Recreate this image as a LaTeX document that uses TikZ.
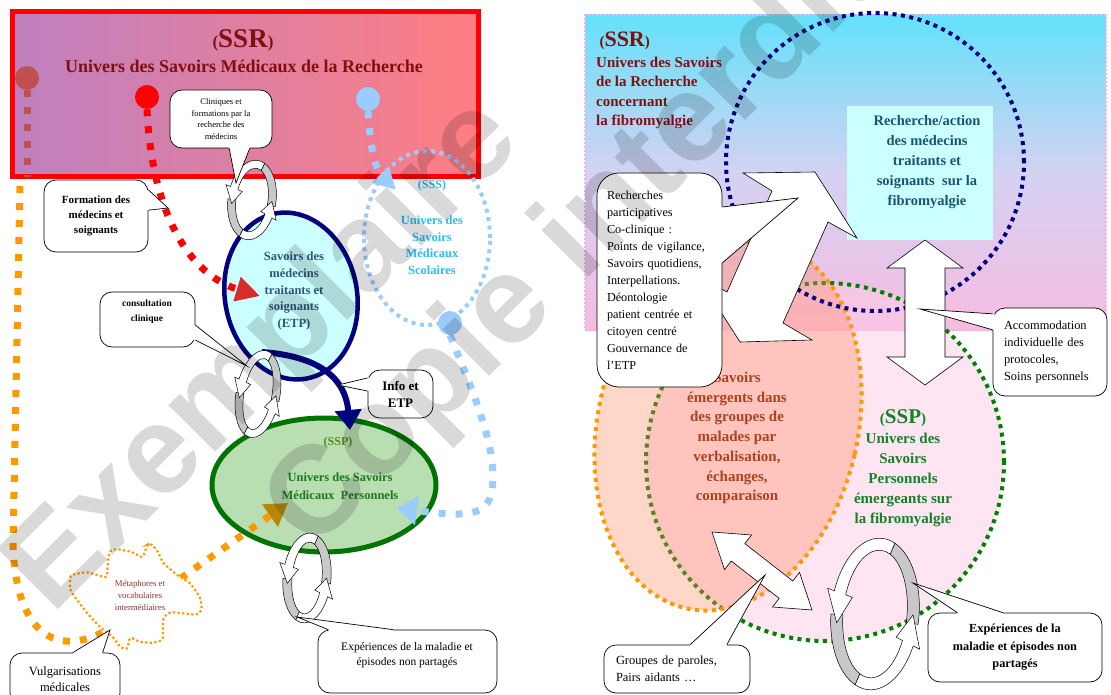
\documentclass[tikz,border=0pt]{standalone}
\usepackage{fontspec}
\setmainfont{Liberation Serif}
\newfontfamily\wmfont{Liberation Sans}
\usetikzlibrary{shapes.geometric,arrows.meta,calc}
\definecolor{boxL}{RGB}{190,128,192}
\definecolor{boxR}{RGB}{255,126,130}
\definecolor{ssrRed}{RGB}{128,16,16}
\definecolor{dotBrown}{RGB}{192,80,77}
\definecolor{lblue}{RGB}{153,204,255}
\definecolor{orangeD}{RGB}{255,153,0}
\definecolor{goldD}{RGB}{184,134,11}
\definecolor{navyC}{RGB}{0,0,128}
\definecolor{etpFill}{RGB}{204,255,255}
\definecolor{etpC}{RGB}{45,85,120}
\definecolor{sssC}{RGB}{40,190,240}
\definecolor{sspFill}{RGB}{185,222,178}
\definecolor{sspLine}{RGB}{0,115,0}
\definecolor{sspO}{RGB}{95,135,30}
\definecolor{sspG}{RGB}{30,120,30}
\definecolor{ringgrey}{RGB}{200,200,200}
\definecolor{redArrow}{RGB}{215,45,45}
\definecolor{metC}{RGB}{150,50,50}
\definecolor{rTop}{RGB}{100,225,250}
\definecolor{rMid}{RGB}{212,210,242}
\definecolor{rBot}{RGB}{245,188,225}
\definecolor{rBorder}{RGB}{255,170,240}
\definecolor{rboxC}{RGB}{204,255,255}
\definecolor{rC}{RGB}{25,85,115}
\definecolor{oFill}{RGB}{255,140,96}
\definecolor{gFill}{RGB}{255,205,230}
\definecolor{oC}{RGB}{170,68,30}
\definecolor{gC}{RGB}{20,130,40}
\definecolor{gLine}{RGB}{0,128,0}
\newcommand{\fs}[2]{\fontsize{#1}{#2}\selectfont}
% grey inner band of a ring from #1 to #2
\newcommand{\ringgreypart}[2]{%
 \filldraw[fill=ringgrey,draw=black,line width=0.5pt]
   ({\RoA*cos(#1)},{\RoB*sin(#1)}) arc[start angle=#1,end angle=#2,x radius=\RoA,y radius=\RoB]
   -- ({\RiA*cos(#2)},{\RiB*sin(#2)}) arc[start angle=#2,end angle=#1,x radius=\RiA,y radius=\RiB] -- cycle;}
% white outer band from #1 to #2 with arrow head whose tip is at #3
\newcommand{\ringwhitepart}[3]{%
 \filldraw[fill=white,draw=black,line width=0.5pt]
   ({\RoA*cos(#1)},{\RoB*sin(#1)}) arc[start angle=#1,end angle=#2,x radius=\RoA,y radius=\RoB]
   -- ({\RxA*cos(#2)},{\RxB*sin(#2)}) -- ({\RmA*cos(#3)},{\RmB*sin(#3)}) -- ({\RuA*cos(#2)},{\RuB*sin(#2)})
   -- ({\RiA*cos(#2)},{\RiB*sin(#2)}) arc[start angle=#2,end angle=#1,x radius=\RiA,y radius=\RiB] -- cycle;}
\newcommand{\ringarrow}[6]{%
 \begin{scope}[shift={(#1,#2)},rotate=#5]
 \pgfmathsetmacro{\RoA}{#3}\pgfmathsetmacro{\RoB}{#4}
 \pgfmathsetmacro{\RiA}{#3-#6}\pgfmathsetmacro{\RiB}{#4-#6}
 \pgfmathsetmacro{\RmA}{#3-#6/2}\pgfmathsetmacro{\RmB}{#4-#6/2}
 \pgfmathsetmacro{\RxA}{#3+#6*0.6}\pgfmathsetmacro{\RxB}{#4+#6*0.6}
 \pgfmathsetmacro{\RuA}{#3-#6*1.6}\pgfmathsetmacro{\RuB}{#4-#6*1.6}
 \ringgreypart{5}{-72}
 \ringgreypart{-183}{-252}
 \ringwhitepart{-72}{-165}{-190}
 \ringwhitepart{-252}{-338}{-362}
 \end{scope}}
% callout tails
\newcommand{\tailT}[4]{%
 \fill[white] ($(#1.north west)!#2!(#1.north east)+(0,2)$) -- ($(#1.north west)!#2!(#1.north east)$) -- (#4) -- ($(#1.north west)!#3!(#1.north east)$) -- ($(#1.north west)!#3!(#1.north east)+(0,2)$) -- cycle;
 \draw[cline] ($(#1.north west)!#2!(#1.north east)$) -- (#4) -- ($(#1.north west)!#3!(#1.north east)$);}
\newcommand{\tailB}[4]{%
 \fill[white] ($(#1.south west)!#2!(#1.south east)+(0,-2)$) -- ($(#1.south west)!#2!(#1.south east)$) -- (#4) -- ($(#1.south west)!#3!(#1.south east)$) -- ($(#1.south west)!#3!(#1.south east)+(0,-2)$) -- cycle;
 \draw[cline] ($(#1.south west)!#2!(#1.south east)$) -- (#4) -- ($(#1.south west)!#3!(#1.south east)$);}
\newcommand{\tailL}[4]{%
 \fill[white] ($(#1.north west)!#2!(#1.south west)+(2,0)$) -- ($(#1.north west)!#2!(#1.south west)$) -- (#4) -- ($(#1.north west)!#3!(#1.south west)$) -- ($(#1.north west)!#3!(#1.south west)+(2,0)$) -- cycle;
 \draw[cline] ($(#1.north west)!#2!(#1.south west)$) -- (#4) -- ($(#1.north west)!#3!(#1.south west)$);}
\newcommand{\tailR}[4]{%
 \fill[white] ($(#1.north east)!#2!(#1.south east)+(-2,0)$) -- ($(#1.north east)!#2!(#1.south east)$) -- (#4) -- ($(#1.north east)!#3!(#1.south east)$) -- ($(#1.north east)!#3!(#1.south east)+(-2,0)$) -- cycle;
 \draw[cline] ($(#1.north east)!#2!(#1.south east)$) -- (#4) -- ($(#1.north east)!#3!(#1.south east)$);}
\begin{document}
\begin{tikzpicture}[x=1pt,y=-1pt,
  sq/.style={line width=7pt,dash pattern=on 7pt off 10pt},
  dotline/.style={line width=4pt,dash pattern=on 4pt off 4.5pt},
  callout/.style={draw=black,fill=white,line width=0.7pt,inner sep=0pt,align=center,rounded corners=12pt},
  cline/.style={line width=0.7pt,draw=black},
  dotnode/.style={circle,inner sep=0pt,minimum size=24pt},
  whitearrow/.style={fill=white,draw=black,line width=0.6pt},
  watermark/.style={rotate=45,anchor=base west,inner sep=0pt,text=black,text opacity=0.15,font=\wmfont\bfseries\fs{125}{125}}]
\useasboundingbox (0,0) rectangle (1111,695);
\begin{scope}
\clip (0,0) rectangle (1111,695);
% ================= LEFT PANEL =================
\node[draw=red,line width=5pt,left color=boxL,right color=boxR,minimum width=466pt,minimum height=165pt,inner sep=0pt] (ssrbox) at (245,94.5) {};
\node[anchor=base,text=ssrRed,font=\bfseries] (ssrT) at (243,48) {{\fs{17}{17}(}{\fs{27}{27}SSR}{\fs{17}{17})}};
\node[anchor=base,text=ssrRed,font=\bfseries\fs{18}{20}] (ssrT2) at (244,73) {Univers des Savoirs Médicaux de la Recherche};
\node[dotnode,fill=dotBrown] (dotB) at (27,78) {};
\node[dotnode,fill=red] (dotR) at (147,97) {};
\node[dotnode,fill=lblue] (dotS) at (368,99) {};
% SSS ellipse
\node[ellipse,draw=lblue,dotline,minimum width=126pt,minimum height=174pt,inner sep=0pt] (sss) at (427,238) {};
\node[dotnode,fill=lblue] (dotS2) at (450,323) {};
% SSP ellipse (left)
\node[ellipse,draw=sspLine,line width=5pt,fill=sspFill,minimum width=224pt,minimum height=134pt,inner sep=0pt] (sspL) at (324,485) {};
% orange path
\coordinate (oStart) at (20,186);
\coordinate (oEnd) at (288,503);
\draw[sq,dotBrown] (dotB.south) -- (27,177);
\draw[sq,orangeD,-{Triangle[length=22pt,width=26pt,color=goldD]}] (oStart) -- (13,545) .. controls (16,640) and (62,658) .. (110,628) -- (oEnd);
% cloud
\draw[orangeD,line width=2.2pt,dash pattern=on 2.2pt off 2.4pt,fill=white,rounded corners=3pt]
 (70,575) -- (87,572) -- (107,578) -- (108,560) -- (110,550) -- (117,549) -- (132,552) -- (143,558) -- (147,545) -- (150,543) -- (157,550) -- (163,563) -- (177,575) -- (190,583) -- (200,597) -- (202,610) -- (197,615) -- (180,613) -- (170,612) -- (163,618) -- (163,640) -- (153,643) -- (140,642) -- (130,637) -- (127,650) -- (120,647) -- (113,637) -- (100,627) -- (87,613) -- (77,600) -- (70,590) -- cycle;
\node[text=metC,font=\fs{8.8}{12},align=center] (metT) at (140,595) {Métaphores et\\vocabulaires\\intermédiaires};
% ETP ellipse
\node[ellipse,draw=navyC,line width=4.5pt,fill=etpFill,minimum width=132pt,minimum height=168pt,rotate=11,inner sep=0pt] (etp) at (291,296) {};
% red path
\coordinate (rEnd) at (260,296);
\draw[sq,red,-{Triangle[length=24pt,width=24pt,color=redArrow]}] (dotR.south) .. controls (152,215) and (190,275) .. (rEnd);
% navy arrow
\coordinate (nStart) at (262,352);
\coordinate (nEnd) at (350,430);
\draw[navyC,line width=6pt,-{Triangle[length=20pt,width=26pt]}] (nStart) .. controls (315,356) and (345,375) .. (nEnd);
% light blue paths
\coordinate (sEnd) at (396,190);
\draw[sq,lblue,-{Triangle[length=22pt,width=22pt]}] (dotS.south) .. controls (370,150) and (376,170) .. (sEnd);
\coordinate (sEnd2) at (397,508);
\draw[sq,lblue,-{Triangle[length=20pt,width=28pt]}] (dotS2.south) .. controls (482,412) and (497,455) .. (492,490) .. controls (488,517) and (465,517) .. (sEnd2);
% texts
\node[text=etpC,font=\bfseries\fs{12.5}{16.7},align=center] (etpT) at (294,291) {Savoirs des\\médecins\\traitants et\\soignants\\(ETP)};
\node[text=sssC,font=\bfseries\fs{12}{14}] (sssT1) at (432,186) {(SSS)};
\node[text=sssC,font=\bfseries\fs{12.5}{16.5},align=center] (sssT2) at (432,245) {Univers des\\Savoirs\\Médicaux\\Scolaires};
\node[text=sspO,font=\bfseries\fs{12}{14}] (sspT1) at (338,443) {(SSP)};
\node[text=sspG,font=\bfseries\fs{12.5}{18},align=center] (sspT2) at (340,486) {Univers des Savoirs\\Médicaux\ \ Personnels};
% rings
\ringarrow{252}{200}{24}{40}{-8}{8}
\ringarrow{258}{394}{22}{44}{-10}{8}
\ringarrow{307}{578}{24}{45}{-5}{9}
% callouts left
\node[callout,minimum width=102pt,minimum height=58pt,font=\fs{8.6}{11.6}] (cA) at (221,119) {Cliniques et\\formations par la\\recherche des\\médecins};
\coordinate (tA) at (236,183);
\tailB{cA}{0.58}{0.78}{tA}
\node[callout,minimum width=104pt,minimum height=72pt,font=\bfseries\fs{11}{15}] (cB) at (96,216) {Formation des\\médecins et\\soignants};
\coordinate (tB) at (168,208);
\tailR{cB}{0.14}{0.42}{tB}
\node[callout,minimum width=95pt,minimum height=55pt] (cC) at (147.5,319.5) {};
\coordinate (tC) at (247,366);
\tailR{cC}{0.6}{0.87}{tC}
\node[font=\bfseries\fs{9.5}{15},align=center] (cCt) at (147,312) {consultation\\clinique};
\node[callout,minimum width=65pt,minimum height=48pt,font=\bfseries\fs{13}{17}] (cD) at (400.5,394) {Info et\\ETP};
\coordinate (tD) at (338,385);
\tailL{cD}{0.17}{0.44}{tD}
\node[callout,minimum width=110pt,minimum height=52pt,font=\fs{12.5}{16}] (cE) at (65,679) {Vulgarisations\\médicales};
\coordinate (tE) at (110,630);
\tailT{cE}{0.57}{0.84}{tE}
\node[callout,minimum width=179pt,minimum height=63pt] (cF) at (407.5,661.5) {};
\coordinate (tF) at (297,617);
\tailT{cF}{0.06}{0.42}{tF}
\node[font=\fs{11.5}{15},align=center] (cFt) at (407,655) {Expériences de la maladie et\\épisodes non partagés};
% ================= RIGHT PANEL =================
\node[draw=rBorder,line width=2pt,dash pattern=on 2pt off 2pt,top color=rTop,bottom color=rBot,middle color=rMid,minimum width=521pt,minimum height=315pt,inner sep=0pt] (ssrR) at (845.5,172.5) {};
\node[circle,draw=gLine,dotline,fill=gFill,fill opacity=0.55,minimum size=358pt,inner sep=0pt] (sspR) at (825,462) {};
\node[ellipse,draw=orangeD,dotline,fill=oFill,fill opacity=0.35,minimum width=260pt,minimum height=376pt,rotate=-13,inner sep=0pt] (emerg) at (728,425) {};
\node[circle,draw=navyC,dotline,minimum size=298pt,inner sep=0pt] (rcirc) at (875,162) {};
\node[fill=rboxC,minimum width=146pt,minimum height=134pt,inner sep=0pt] (rbox) at (920,173) {};
\node[anchor=base west,text=ssrRed,font=\bfseries] (ssrR1) at (596,47) {{\fs{15}{15}(}{\fs{22}{22}SSR}{\fs{15}{15})}};
\node[anchor=west,text=ssrRed,font=\bfseries\fs{15}{19.6},align=left,inner sep=0pt] (ssrR2) at (596,93) {Univers des Savoirs\\de la Recherche\\concernant\\la fibromyalgie};
\node[text=rC,font=\bfseries\fs{14.5}{20},align=center] (rboxT) at (927,162) {Recherche/action\\des médecins\\traitants et\\soignants\ \ sur la\\fibromyalgie};
\node[text=oC,font=\bfseries\fs{15}{19.7},align=center] (emergT) at (737,438) {Savoirs\\émergents dans\\des groupes de\\malades par\\verbalisation,\\échanges,\\comparaison};
\node[text=gC,font=\bfseries] (sspR1) at (903,418) {{\fs{15}{15}(}{\fs{21}{21}SSP}{\fs{15}{15})}};
\node[text=gC,font=\bfseries\fs{15}{20},align=center] (sspR2) at (903,480) {Univers des\\Savoirs\\Personnels\\émergeants sur\\la fibromyalgie};
% white block arrows
\filldraw[whitearrow] (815,172) -- (857,238) -- (828,222) -- (783,323) -- (812,340) -- (740,342) -- (698,276) -- (727,292) -- (772,191) -- (743,173) -- cycle;
\filldraw[whitearrow] (925,240) -- (963,268) -- (945,268) -- (945,357) -- (963,357) -- (925,385) -- (887,357) -- (905,357) -- (905,268) -- (887,268) -- cycle;
\filldraw[whitearrow] (712,532) -- (724.5,569.6) -- (731.2,561.0) -- (779.2,598.4) -- (772.5,607.0) -- (812,610) -- (799.5,572.4) -- (792.8,581.0) -- (744.8,543.6) -- (751.5,535.0) -- cycle;
\ringarrow{875}{614}{44}{76}{-5}{12}
% callouts right
\node[callout,rounded corners=22pt,minimum width=125pt,minimum height=214pt,text width=105pt,inner xsep=10pt,align=left,font=\fs{12.2}{17}] (cG) at (659.5,280) {Recherches\\participatives\\Co-clinique :\\Points de vigilance,\\Savoirs quotidiens,\\Interpellations.\\Déontologie\\patient centrée et\\citoyen centré\\Gouvernance de\\l’ETP};
\coordinate (tG) at (798,198);
\tailR{cG}{0.16}{0.42}{tG}
\node[callout,minimum width=114pt,minimum height=88pt,text width=92pt,inner xsep=11pt,align=left,font=\fs{12.4}{17}] (cH) at (1050,352) {Accommodation\\individuelle des\\protocoles,\\Soins personnels};
\coordinate (tH) at (920,309);
\tailL{cH}{0.07}{0.25}{tH}
\node[callout,minimum width=146pt,minimum height=48pt,text width=122pt,inner xsep=12pt,align=left,font=\fs{12.4}{17}] (cI) at (677,669) {Groupes de paroles,\\Pairs aidants …};
\coordinate (tI) at (765,575);
\tailT{cI}{0.59}{0.84}{tI}
\node[callout,minimum width=174pt,minimum height=69pt,font=\bfseries\fs{12.3}{17.5}] (cJ) at (1015,647.5) {Expériences de la\\maladie et épisodes non\\partagés};
\coordinate (tJ) at (913,583);
\tailT{cJ}{0.17}{0.43}{tJ}
% watermark
\node[watermark] (wm1) at (52,616) {Exemplaire};
\node[watermark] (wm2) at (312,554) {Copie interdite};
\end{scope}
\end{tikzpicture}
\end{document}
